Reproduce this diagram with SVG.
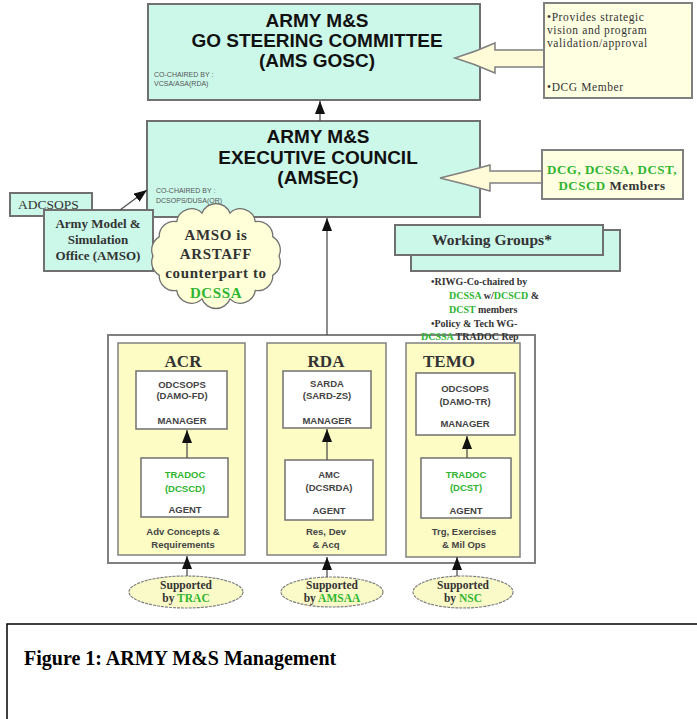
<svg xmlns="http://www.w3.org/2000/svg" width="697" height="719" viewBox="0 0 697 719">
<defs>
<style>
.teal{fill:#ccf8ea;stroke:#707070;stroke-width:2}
.yel{fill:#fcfcc4;stroke:#808080;stroke-width:1.5}
.wbox{fill:#ffffff;stroke:#707070;stroke-width:1.5}
.note{fill:#ffffe2;stroke:#808080;stroke-width:2}
.barrow{fill:#fffad8;stroke:#808080;stroke-width:1.5}
.oval{fill:#fafac8;stroke:#808080;stroke-width:1.2;stroke-dasharray:3 1}
.line{stroke:#505050;stroke-width:1.3;fill:none}
.h{font-family:"Liberation Sans",Arial,sans-serif;font-weight:bold;font-size:19px;fill:#111;text-anchor:middle}
.tiny{font-family:"Liberation Sans",Arial,sans-serif;font-size:7px;fill:#555}
.tb{font-family:"Liberation Serif","Times New Roman",serif;font-weight:bold;fill:#333}
.t{font-family:"Liberation Serif","Times New Roman",serif;fill:#333}
.s{font-family:"Liberation Sans",Arial,sans-serif;font-weight:bold;font-size:9.5px;fill:#444;text-anchor:middle}
.g{fill:#2fb52f}
.mid{text-anchor:middle}
</style>
<marker id="ah" markerWidth="13" markerHeight="10" refX="13" refY="5" orient="auto" markerUnits="userSpaceOnUse" viewBox="0 0 13 10">
<path d="M0,0 L13,5 L0,10 Z" fill="#111"/>
</marker>
</defs>
<rect width="697" height="719" fill="#ffffff"/>

<g id="gosc">
<rect class="teal" x="148" y="4" width="332" height="96"/>
<text class="h" x="317" y="27">ARMY M&amp;S</text>
<text class="h" x="317" y="47">GO STEERING COMMITTEE</text>
<text class="h" x="317" y="67">(AMS GOSC)</text>
<text class="tiny" x="154" y="77">CO-CHAIRED BY :</text>
<text class="tiny" x="154" y="86">VCSA/ASA(RDA)</text>
</g>

<g id="gosc-arrow">
<path class="barrow" d="M455,58 Q475,52 495,43 L495,50 L544,50 L544,67 L495,67 L495,73 Q475,64 455,58 Z"/>
</g>

<g id="gosc-note">
<rect class="note" x="544" y="3" width="148" height="95"/>
<text class="t" font-size="11.5" letter-spacing="0.6" x="547" y="21">•Provides strategic</text>
<text class="t" font-size="11.5" letter-spacing="0.6" x="547" y="34">vision and program</text>
<text class="t" font-size="11.5" letter-spacing="0.6" x="547" y="47">validation/approval</text>
<text class="t" font-size="11.5" letter-spacing="0.6" x="547" y="91">•DCG Member</text>
</g>

<g id="amsec">
<rect class="teal" x="147" y="121" width="333" height="96"/>
<text class="h" x="318" y="143">ARMY M&amp;S</text>
<text class="h" x="318" y="164">EXECUTIVE COUNCIL</text>
<text class="h" x="318" y="184">(AMSEC)</text>
<text class="tiny" x="156" y="193">CO-CHAIRED BY :</text>
<text class="tiny" x="156" y="203">DCSOPS/DUSA(OR)</text>
</g>

<g id="members-arrow">
<path class="barrow" d="M440,178 Q465,172 490,165 L490,171 L542,171 L542,183 L490,183 L490,191 Q465,184 440,178 Z"/>
</g>

<g id="members">
<rect class="note" x="542" y="150" width="141" height="49"/>
<text class="tb g mid" font-size="13" letter-spacing="0.5" x="612" y="174">DCG, DCSSA, DCST,</text>
<text class="tb mid" font-size="13" letter-spacing="0.5" x="612" y="190"><tspan class="g">DCSCD</tspan> Members</text>
</g>

<g id="working-groups">
<rect class="teal" x="411" y="230" width="209" height="41" stroke-width="1.5"/>
<rect class="teal" x="395" y="225" width="208" height="30" stroke-width="1.5"/>
<text class="tb" font-size="15.5" x="432" y="245">Working Groups*</text>
</g>

<g id="adcsops">
<rect class="teal" x="10" y="193" width="82" height="23" stroke-width="1.5"/>
<text class="t" font-size="13.5" x="18" y="209">ADCSOPS</text>
</g>

<g id="amso">
<rect class="teal" x="44" y="210" width="109" height="61" stroke-width="1.5"/>
<text class="tb mid" font-size="13" x="98" y="228">Army Model &amp;</text>
<text class="tb mid" font-size="13" x="98" y="244">Simulation</text>
<text class="tb mid" font-size="13" x="98" y="260">Office (AMSO)</text>
</g>

<g id="amso-cloud">
<path fill="#ffffd8" stroke="#707070" stroke-width="1.3" d="M279,256 A15,15 0 0 1 272.8,275.1 A15,15 0 0 1 255.3,290.4 A15,15 0 0 1 230,298.9 A15,15 0 0 1 202,298.9 A15,15 0 0 1 176.7,290.4 A15,15 0 0 1 159.2,275.1 A15,15 0 0 1 153,256 A15,15 0 0 1 159.2,236.9 A15,15 0 0 1 176.7,221.6 A15,15 0 0 1 202,213.1 A15,15 0 0 1 230,213.1 A15,15 0 0 1 255.3,221.6 A15,15 0 0 1 272.8,236.9 A15,15 0 0 1 279,256 Z"/>
<text class="tb mid" font-size="15" letter-spacing="0.6" x="216" y="240">AMSO is</text>
<text class="tb mid" font-size="15" letter-spacing="0.6" x="216" y="259">ARSTAFF</text>
<text class="tb mid" font-size="15" letter-spacing="0.6" x="216" y="278">counterpart to</text>
<text class="tb mid g" font-size="15" letter-spacing="0.6" x="216" y="298">DCSSA</text>
</g>

<g id="container">
<rect x="108" y="335" width="427" height="228" fill="#ffffff" stroke="#808080" stroke-width="2"/>
</g>

<g id="wg-notes">
<text class="tb" font-size="10" x="431" y="285">•RIWG-Co-chaired by</text>
<text class="tb" font-size="10" x="449" y="299"><tspan class="g">DCSSA</tspan> w/<tspan class="g">DCSCD</tspan> &amp;</text>
<text class="tb" font-size="10" x="449" y="313"><tspan class="g">DCST</tspan> members</text>
<text class="tb" font-size="10" x="431" y="327">•Policy &amp; Tech  WG-</text>
<text class="tb" font-size="10" x="421" y="340"><tspan class="g">DCSSA</tspan> TRADOC Rep</text>
</g>

<g id="acr">
<rect class="yel" x="118" y="343" width="127" height="212"/>
<text class="tb mid" font-size="17" x="183" y="367">ACR</text>
<rect class="wbox" x="136" y="371" width="91" height="58"/>
<text class="s" x="182" y="388">ODCSOPS</text>
<text class="s" x="182" y="399">(DAMO-FD)</text>
<text class="s" x="182" y="424">MANAGER</text>
<rect class="wbox" x="141" y="458" width="87" height="59"/>
<text class="s g" x="185" y="478">TRADOC</text>
<text class="s g" x="185" y="492">(DCSCD)</text>
<text class="s" x="185" y="513">AGENT</text>
<text class="s" x="183" y="535" font-size="10">Adv Concepts &amp;</text>
<text class="s" x="183" y="548" font-size="10">Requirements</text>
</g>

<g id="rda">
<rect class="yel" x="267" y="343" width="119" height="212"/>
<text class="tb mid" font-size="17" x="326" y="367">RDA</text>
<rect class="wbox" x="283" y="371" width="88" height="57"/>
<text class="s" x="327" y="387">SARDA</text>
<text class="s" x="327" y="399">(SARD-ZS)</text>
<text class="s" x="327" y="424">MANAGER</text>
<rect class="wbox" x="285" y="460" width="88" height="60"/>
<text class="s" x="329" y="478">AMC</text>
<text class="s" x="329" y="491">(DCSRDA)</text>
<text class="s" x="329" y="514">AGENT</text>
<text class="s" x="326" y="535" font-size="10">Res, Dev</text>
<text class="s" x="326" y="548" font-size="10">&amp; Acq</text>
</g>

<g id="temo">
<rect class="yel" x="406" y="343" width="114" height="214"/>
<text class="tb mid" font-size="17" x="449" y="367">TEMO</text>
<rect class="wbox" x="416" y="373" width="99" height="62"/>
<text class="s" x="465" y="392">ODCSOPS</text>
<text class="s" x="465" y="405">(DAMO-TR)</text>
<text class="s" x="465" y="427">MANAGER</text>
<rect class="wbox" x="421" y="458" width="90" height="60"/>
<text class="s g" x="466" y="478">TRADOC</text>
<text class="s g" x="466" y="491">(DCST)</text>
<text class="s" x="466" y="514">AGENT</text>
<text class="s" x="464" y="535" font-size="10">Trg, Exercises</text>
<text class="s" x="464" y="548" font-size="10">&amp; Mil Ops</text>
</g>

<g id="trac">
<ellipse class="oval" cx="186" cy="592" rx="57" ry="16"/>
<text class="tb mid" font-size="11.5" x="186" y="589">Supported</text>
<text class="tb mid" font-size="11.5" x="186" y="602">by <tspan class="g">TRAC</tspan></text>
</g>

<g id="amsaa">
<ellipse class="oval" cx="332" cy="592" rx="51" ry="15"/>
<text class="tb mid" font-size="11.5" x="332" y="589">Supported</text>
<text class="tb mid" font-size="11.5" x="332" y="602">by <tspan class="g">AMSAA</tspan></text>
</g>

<g id="nsc">
<ellipse class="oval" cx="463" cy="592" rx="50" ry="16"/>
<text class="tb mid" font-size="11.5" x="463" y="589">Supported</text>
<text class="tb mid" font-size="11.5" x="463" y="602">by <tspan class="g">NSC</tspan></text>
</g>

<g id="connectors">
<line class="line" x1="320" y1="121" x2="320" y2="101" marker-end="url(#ah)"/>
<line class="line" x1="327" y1="335" x2="327" y2="218" marker-end="url(#ah)"/>
<line class="line" x1="120" y1="210" x2="147" y2="190" marker-end="url(#ah)"/>
<line class="line" x1="187" y1="458" x2="187" y2="430" marker-end="url(#ah)"/>
<line class="line" x1="327" y1="460" x2="327" y2="429" marker-end="url(#ah)"/>
<line class="line" x1="467" y1="458" x2="467" y2="436" marker-end="url(#ah)"/>
<line class="line" x1="187" y1="576" x2="187" y2="556" marker-end="url(#ah)"/>
<line class="line" x1="327" y1="577" x2="327" y2="557" marker-end="url(#ah)"/>
<line class="line" x1="457" y1="576" x2="457" y2="557" marker-end="url(#ah)"/>
</g>

<g id="caption">
<rect x="7" y="624" width="700" height="110" fill="none" stroke="#000" stroke-width="1.5"/>
<text font-family="'Liberation Serif','Times New Roman',serif" font-weight="bold" font-size="20" fill="#000" x="24" y="665">Figure 1: ARMY M&amp;S Management</text>
</g>
</svg>
